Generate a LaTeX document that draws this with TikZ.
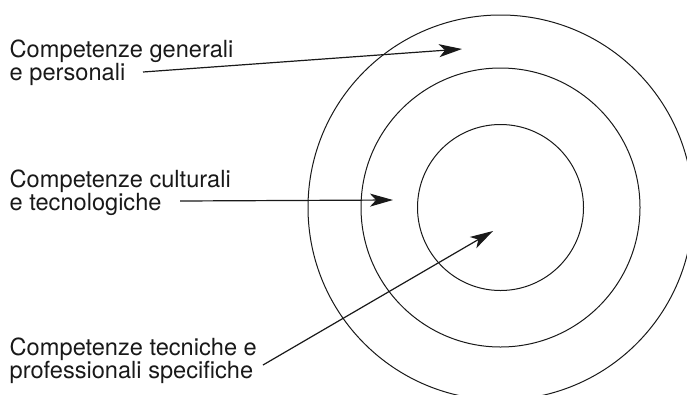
\documentclass[tikz,border=0pt]{standalone}
\usepackage{fontspec}
\setmainfont{TeX Gyre Heros}
\usetikzlibrary{arrows.meta}
\tikzset{
  lbl/.style={anchor=base west, inner sep=0pt, font=\fontsize{23.6}{23}\selectfont, text=black!90},
  ring/.style={draw=black!90, line width=1pt},
  pointer/.style={draw=black!90, line width=1.2pt, -{Stealth[length=23pt,width=13pt,inset=6pt]}}
}
\begin{document}
\begin{tikzpicture}[x=1pt,y=-1pt]
\useasboundingbox (0,0) rectangle (687,394);
\clip (0,0) rectangle (687,394);
\coordinate (c) at (500.5,207.5);
\draw[ring] (c) circle[radius=83];
\draw[ring] (c) circle[radius=139.5];
\draw[ring] (c) circle[radius=192.5];

\node[lbl] (t1a) at (9.5,57) {Competenze generali};
\node[lbl] (t1b) at (9.5,80) {e personali};
\node[lbl] (t2a) at (9.5,187) {Competenze culturali};
\node[lbl] (t2b) at (9.5,210) {e tecnologiche};
\node[lbl] (t3a) at (9.5,355) {Competenze tecniche e};
\node[lbl] (t3b) at (9.5,378) {professionali specifiche};

\coordinate (s1) at (143,72);
\coordinate (e1) at (462,49);
\coordinate (s2) at (180,201);
\coordinate (e2) at (393,200);
\coordinate (s3) at (263,365);
\coordinate (e3) at (493,231);

\draw[pointer] (s1) -- (e1);
\draw[pointer] (s2) -- (e2);
\draw[pointer] (s3) -- (e3);
\end{tikzpicture}
\end{document}
